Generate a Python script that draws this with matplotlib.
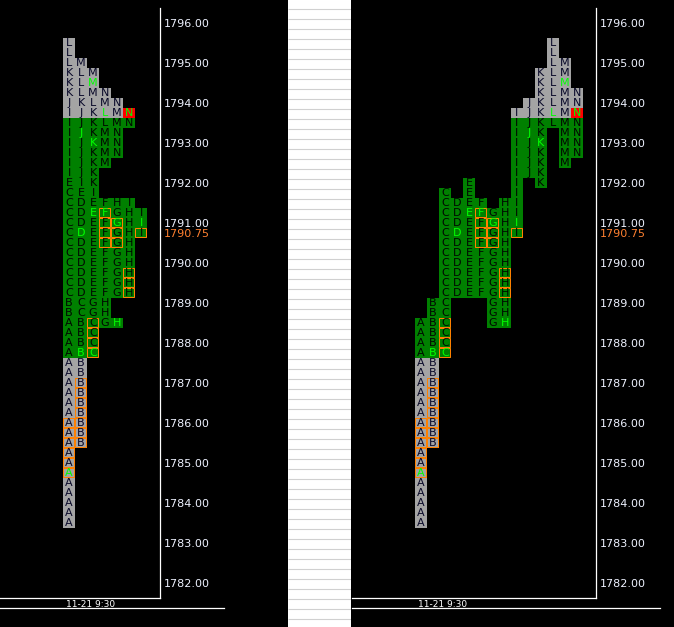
import numpy as np
import matplotlib
matplotlib.use('Agg')
import matplotlib.pyplot as plt
from matplotlib.patches import Rectangle
from matplotlib.lines import Line2D

nan = np.nan
# ---------------- data ----------------
periods = list('ABCDEFGHIJKLMN')
period_low = [1783.50, 1785.50, 1787.75, 1789.25, 1789.25, 1789.25, 1788.50,
              1788.50, 1790.75, 1792.25, 1792.00, 1793.50, 1792.50, 1792.75]
period_high = [1788.50, 1789.00, 1791.75, 1791.50, 1792.00, 1791.50, 1791.25,
               1791.50, 1793.75, 1794.00, 1794.75, 1795.50, 1795.00, 1794.25]
period_open = [1784.75, 1787.75, 1787.75, 1790.75, 1791.25, 1791.25, 1791.00,
               1788.50, 1791.00, 1793.25, 1793.00, 1793.75, 1794.50, 1793.75]
box_low = [1784.75, 1785.50, 1787.75, nan, nan, 1790.50, 1790.50,
           1789.25, 1790.75, nan, nan, nan, nan, nan]
box_high = [1786.00, 1787.00, 1788.50, nan, nan, 1791.25, 1791.00,
            1789.75, 1790.75, nan, nan, nan, nan, nan]
red_period = 'N'
red_price = 1793.75
va_low, va_high = 1787.75, 1793.50
tick_size = 0.25
price_ticks = [1782.0, 1783.0, 1784.0, 1785.0, 1786.0, 1787.0, 1788.0,
               1789.0, 1790.0, 1791.0, 1792.0, 1793.0, 1794.0, 1795.0, 1796.0]
last_price = 1790.75
session_label = '11-21 9:30'

# ---------------- style ----------------
BG = 'black'
GREEN = '#008000'
GREY = '#a4a4a4'
LIME = '#00ff00'
ORANGE = '#ff8000'
RED = '#ff0000'
AXTXT = '#eef2ff'

W, H = 674, 627
fig = plt.figure(figsize=(W / 100, H / 100), dpi=100, facecolor=BG)


def px_axes(x0, x1, y_top, y_bot):
    return fig.add_axes([x0 / W, 1 - y_bot / H, (x1 - x0) / W, (y_bot - y_top) / H])


# build cells
cells = []  # (period index, price)
for i, p in enumerate(periods):
    n = int(round((period_high[i] - period_low[i]) / tick_size)) + 1
    for k in range(n):
        cells.append((i, period_low[i] + k * tick_size))

# collapsed-profile column per cell
rank = {}
for (i, pr) in cells:
    rank.setdefault(pr, []).append(i)
left_col = {}
for pr, lst in rank.items():
    for c, i in enumerate(sorted(lst)):
        left_col[(i, pr)] = c

y_top_price = 1796.0 + (23 - 8) / 40.0
y_bot_price = 1796.0 - (598 - 23) / 40.0


def draw_panel(ax, colfunc, x_first_center_px, x0px, x1px):
    ax.set_facecolor(BG)
    ax.set_xlim((x0px - x_first_center_px) / 12.0, (x1px - x_first_center_px) / 12.0)
    ax.set_ylim(y_bot_price, y_top_price)
    xs, ys, cols = [], [], []
    for (i, pr) in cells:
        c = colfunc(i, pr)
        xs.append(c)
        ys.append(pr)
        if periods[i] == red_period and abs(pr - red_price) < 1e-9:
            cols.append(RED)
        elif va_low - 1e-9 <= pr <= va_high + 1e-9:
            cols.append(GREEN)
        else:
            cols.append(GREY)
    ys = np.array(ys)
    ax.bar(xs, tick_size, bottom=ys - tick_size / 2, width=1.0, color=cols,
           linewidth=0, antialiased=False, align='center', zorder=1)
    for (i, pr), x in zip(cells, xs):
        is_open = abs(pr - period_open[i]) < 1e-9
        in_va = va_low - 1e-9 <= pr <= va_high + 1e-9
        if is_open:
            tc = LIME
        elif in_va:
            tc = '#000800'
        else:
            tc = '#080828'
        ax.text(x, pr - 0.01, periods[i], ha='center', va='center',
                fontsize=8, color=tc, family='DejaVu Sans', zorder=3)
        if not np.isnan(box_low[i]) and box_low[i] - 1e-9 <= pr <= box_high[i] + 1e-9:
            ax.add_patch(Rectangle((x - 0.5 + 0.5 / 12, pr - tick_size / 2 + 0.5 / 40),
                                   1 - 1.0 / 12, tick_size - 1.0 / 40, fill=False,
                                   edgecolor=ORANGE, linewidth=0.72, snap=False,
                                   zorder=2))
    for s in ['left', 'top']:
        ax.spines[s].set_visible(False)
    for s in ['right', 'bottom']:
        ax.spines[s].set_color('white')
        ax.spines[s].set_linewidth(0.9)
    ax.yaxis.tick_right()
    ticks = price_ticks + [last_price]
    ax.set_yticks(ticks)
    ax.set_yticklabels(['%.2f' % t for t in ticks], fontsize=8, family='DejaVu Sans')
    ax.tick_params(axis='y', length=0, pad=3, labelcolor=AXTXT)
    ax.get_yticklabels()[-1].set_color('#ff8030')
    ax.set_xticks([(x0px + 91 - x_first_center_px) / 12.0])
    ax.set_xticklabels([session_label], fontsize=6.5, color='white', family='DejaVu Sans')
    ax.tick_params(axis='x', length=0, pad=1.5)


axL = px_axes(0, 160, 8, 598)
draw_panel(axL, lambda i, pr: left_col[(i, pr)], 69, 0, 160)

axR = px_axes(352, 596, 8, 598)
draw_panel(axR, lambda i, pr: i, 421, 352, 596)

# middle white spreadsheet-like panel
fig.add_artist(Rectangle((288 / W, 0), 63 / W, 1, transform=fig.transFigure,
                         facecolor='white', edgecolor='none', zorder=-1))
axM = px_axes(288, 351, 0, 627)
axM.set_xlim(0, 1)
axM.set_ylim(627, 0)
axM.hlines(np.arange(8.5, 627, 10), 0, 1, color='#d0d0d0', linewidth=0.8)
axM.axis('off')

# lower time-axis rules
yl = 1 - 608 / H
fig.add_artist(Line2D([0, 224 / W], [yl, yl], color='white', linewidth=0.9))
fig.add_artist(Line2D([352 / W, 660 / W], [yl, yl], color='white', linewidth=0.9))

fig.savefig('out.png', dpi=100, facecolor=BG)
